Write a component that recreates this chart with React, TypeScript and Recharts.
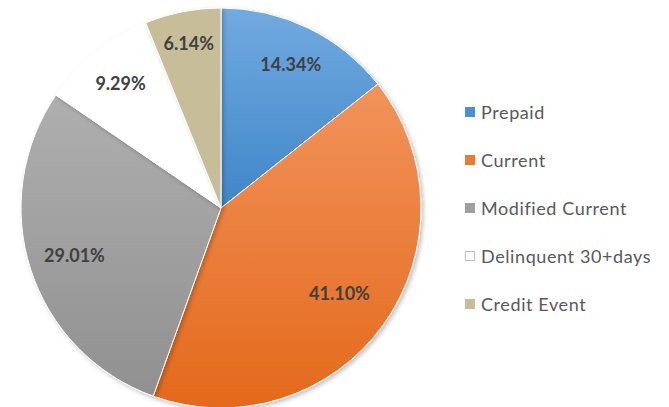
import { PieChart, Pie, Cell, Legend } from 'recharts'

const categories = ['Prepaid', 'Current', 'Modified Current', 'Delinquent 30+days', 'Credit Event']
const shares = [14.34, 41.1, 29.01, 9.29, 6.14]
const labels = ['14.34%', '41.10%', '29.01%', '9.29%', '6.14%']

const fills = ['url(#gBlue)', 'url(#gOrange)', 'url(#gGrey)', '#ffffff', '#c7bd98']
const swatches = ['#4a90d2', '#ec7a30', '#a0a0a0', '#ffffff', '#c7bd98']
// how far out each data label sits, as a share of the radius
const labelRadius = [0.8, 0.73, 0.77, 0.8, 0.84]

const data = categories.map((name, i) => ({ name, value: shares[i], label: labels[i] }))

const FONT = 'Lato, "Open Sans", sans-serif'
const RAD = Math.PI / 180

function renderLabel(props: any) {
  const { cx, cy, midAngle, outerRadius, index } = props
  const r = outerRadius * labelRadius[index]
  const x = cx + r * Math.cos(-midAngle * RAD)
  const y = cy + r * Math.sin(-midAngle * RAD)
  return (
    <text
      x={x}
      y={y}
      textAnchor="middle"
      dominantBaseline="central"
      fill="#404040"
      fontSize={18}
      fontWeight={700}
      fontFamily={FONT}
    >
      {labels[index]}
    </text>
  )
}

function LegendList() {
  return (
    <div style={{ fontFamily: FONT, fontSize: 18, letterSpacing: 0.6, color: '#595959' }}>
      {categories.map((c, i) => (
        <div key={c} style={{ display: 'flex', alignItems: 'center', height: 48 }}>
          <span
            style={{
              width: 10,
              height: 10,
              marginRight: 6,
              backgroundColor: swatches[i],
              border: i === 3 ? '1px solid #bfbfbf' : 'none',
              boxSizing: 'border-box',
            }}
          />
          <span>{c}</span>
        </div>
      ))}
    </div>
  )
}

export default function App() {
  return (
    <div style={{ position: 'absolute', left: 0, top: 0, background: '#fff' }}>
      <PieChart width={669} height={407} margin={{ top: 0, right: 0, bottom: 0, left: 0 }}>
        <defs>
          <linearGradient id="gBlue" x1="0" y1="8" x2="0" y2="408" gradientUnits="userSpaceOnUse">
            <stop offset="0" stopColor="#72aae0" />
            <stop offset="0.5" stopColor="#3f86c8" />
          </linearGradient>
          <linearGradient id="gOrange" x1="0" y1="8" x2="0" y2="408" gradientUnits="userSpaceOnUse">
            <stop offset="0" stopColor="#f59d6a" />
            <stop offset="1" stopColor="#e4691b" />
          </linearGradient>
          <linearGradient id="gGrey" x1="0" y1="8" x2="0" y2="408" gradientUnits="userSpaceOnUse">
            <stop offset="0" stopColor="#b8b8b8" />
            <stop offset="1" stopColor="#8f8f8f" />
          </linearGradient>
          <filter id="pieShadow" x="-10%" y="-10%" width="120%" height="120%">
            <feDropShadow dx="2" dy="2" stdDeviation="2" floodColor="#000" floodOpacity="0.25" />
          </filter>
        </defs>
        <Pie
          data={data}
          dataKey="value"
          nameKey="name"
          cx={221}
          cy={208}
          outerRadius={200}
          startAngle={90}
          endAngle={-270}
          stroke="#ffffff"
          strokeWidth={1}
          label={renderLabel}
          labelLine={false}
          isAnimationActive={false}
          style={{ filter: 'url(#pieShadow)' }}
        >
          {data.map((d, i) => (
            <Cell key={d.name} fill={fills[i]} />
          ))}
        </Pie>
        <Legend
          layout="vertical"
          align="right"
          verticalAlign="top"
          wrapperStyle={{ left: 465, top: 88, width: 204 }}
          content={() => <LegendList />}
        />
      </PieChart>
    </div>
  )
}
